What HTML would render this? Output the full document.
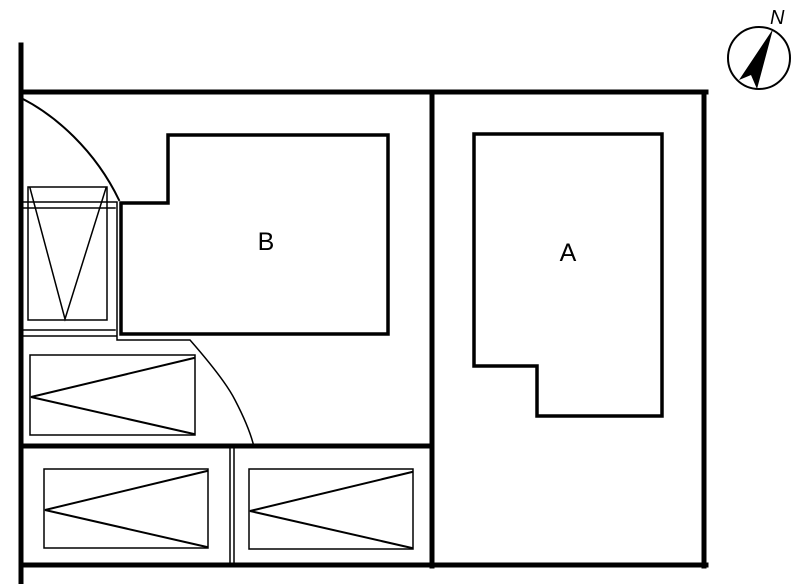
<!DOCTYPE html>
<html><head><style>body{margin:0;background:#fff}svg{display:block}</style></head><body>
<svg width="800" height="584" viewBox="0 0 800 584" xmlns="http://www.w3.org/2000/svg">
<g stroke="#000" fill="none" stroke-linecap="square">
<line x1="21" y1="45" x2="21" y2="584" stroke-width="5"/>
<line x1="21" y1="92" x2="706" y2="92" stroke-width="5"/>
<line x1="704" y1="92" x2="704" y2="566" stroke-width="5"/>
<line x1="432" y1="92" x2="432" y2="566" stroke-width="5"/>
<line x1="21" y1="565" x2="706" y2="565" stroke-width="5"/>
<line x1="21" y1="446" x2="432" y2="446" stroke-width="5"/>
<polygon points="168,135 388,135 388,334 121,334 121,203 168,203" stroke-width="3.5"/>
<polygon points="474,134 662,134 662,416 537,416 537,366 474,366" stroke-width="3.5"/>
<path d="M21,98 C55,115 95,150 119,200" stroke-width="2"/>
<path d="M22,202 H117 V334 M117,203 V336 M22,208 H115 M22,330 H115 M22,336 H117 V340 H190 Q225,380 235,400 Q248,425 253,443" stroke-width="1.5"/>
<rect x="28" y="187" width="79" height="133" stroke-width="1.5"/>
<polyline points="30,188 65,319 106,188" stroke-width="1.5"/>
<rect x="30" y="355" width="165" height="80" stroke-width="1.5"/>
<polyline points="194,358 31,397 194,434" stroke-width="2"/>
<rect x="44" y="469" width="164" height="79" stroke-width="1.5"/>
<polyline points="207,471 45,510 207,547" stroke-width="2"/>
<rect x="249" y="469" width="164" height="80" stroke-width="1.5"/>
<polyline points="412,472 250,511 412,548" stroke-width="2"/>
<line x1="230" y1="447" x2="230" y2="563" stroke-width="1.5"/>
<line x1="234" y1="447" x2="234" y2="563" stroke-width="1.5"/>
<circle cx="759" cy="58" r="31" stroke-width="2"/>
</g>
<polygon points="773,29 739,80 751,75 757,89" fill="#000"/>
<text x="770" y="24" font-family="Liberation Sans, sans-serif" font-size="20" font-style="italic">N</text>
<text x="266" y="250" font-family="Liberation Sans, sans-serif" font-size="25" text-anchor="middle">B</text>
<text x="568" y="261" font-family="Liberation Sans, sans-serif" font-size="25" text-anchor="middle">A</text>
</svg>
</body></html>
